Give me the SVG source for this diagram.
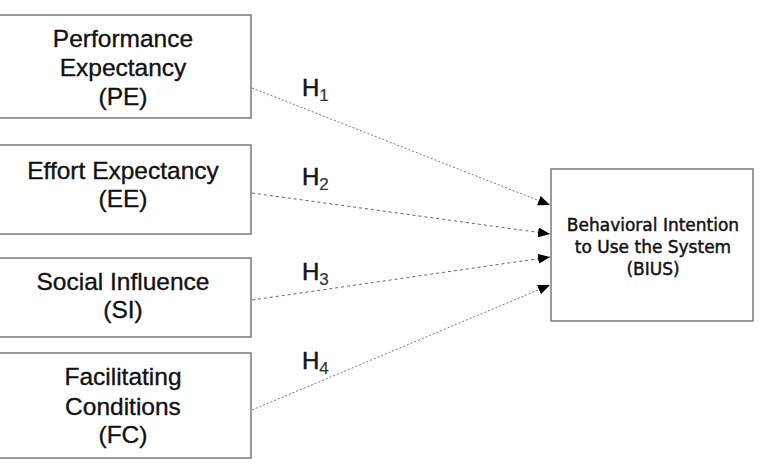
<svg xmlns="http://www.w3.org/2000/svg" width="760" height="466" viewBox="0 0 760 466">
<style>
.box{fill:#fff;stroke:#7a7a7a;stroke-width:1.5}
.t{font-family:"Liberation Sans",Arial,sans-serif;font-size:24.5px;fill:#111;stroke:#111;stroke-width:0.35;text-anchor:middle}
.b{font-family:"DejaVu Sans","Liberation Sans",sans-serif;font-size:17px;fill:#111;stroke:#111;stroke-width:0.45;text-anchor:middle}
.h{font-family:"Liberation Sans",Arial,sans-serif;font-size:24px;fill:#111;stroke:#111;stroke-width:0.5}
.s{font-size:17px;fill:#333;stroke:#333;stroke-width:0.2}
.c{stroke:#777;stroke-width:1;fill:none;stroke-dasharray:2,2}
.c2{stroke:#666;stroke-width:1;fill:none;stroke-dasharray:3,3}
</style>
<defs>
<marker id="ah" viewBox="0 0 12 10" refX="12" refY="5" markerWidth="12" markerHeight="10" markerUnits="userSpaceOnUse" orient="auto">
<path d="M0,0 L12,5 L0,10 z" fill="#000"/>
</marker>
</defs>
<rect width="760" height="466" fill="#fff"/>
<g id="connectors">
<line class="c" x1="252" y1="88" x2="550" y2="205" marker-end="url(#ah)"/>
<line class="c2" x1="252" y1="193" x2="550" y2="234" marker-end="url(#ah)"/>
<line class="c2" x1="252" y1="300" x2="550" y2="257" marker-end="url(#ah)"/>
<line class="c" x1="252" y1="410" x2="550" y2="285" marker-end="url(#ah)"/>
<text class="h" x="302" y="96">H<tspan class="s" dy="5">1</tspan></text>
<text class="h" x="302" y="185">H<tspan class="s" dy="5">2</tspan></text>
<text class="h" x="302" y="280">H<tspan class="s" dy="5">3</tspan></text>
<text class="h" x="302" y="369">H<tspan class="s" dy="5">4</tspan></text>
</g>
<g id="PE">
<rect class="box" x="-2" y="15" width="253" height="103"/>
<text class="t" x="123" y="47">Performance</text>
<text class="t" x="123" y="76">Expectancy</text>
<text class="t" x="123" y="105">(PE)</text>
</g>
<g id="EE">
<rect class="box" x="-2" y="145" width="253" height="89"/>
<text class="t" x="123" y="179">Effort Expectancy</text>
<text class="t" x="123" y="207">(EE)</text>
</g>
<g id="SI">
<rect class="box" x="-2" y="258" width="253" height="79"/>
<text class="t" x="123" y="290">Social  Influence</text>
<text class="t" x="123" y="318">(SI)</text>
</g>
<g id="FC">
<rect class="box" x="-2" y="353" width="253" height="105"/>
<text class="t" x="123" y="385">Facilitating</text>
<text class="t" x="123" y="415">Conditions</text>
<text class="t" x="123" y="443">(FC)</text>
</g>
<g id="BIUS">
<rect class="box" x="551" y="169" width="202" height="152"/>
<text class="b" x="653" y="231">Behavioral Intention</text>
<text class="b" x="653" y="253">to Use the System</text>
<text class="b" x="653" y="275">(BIUS)</text>
</g>
</svg>
